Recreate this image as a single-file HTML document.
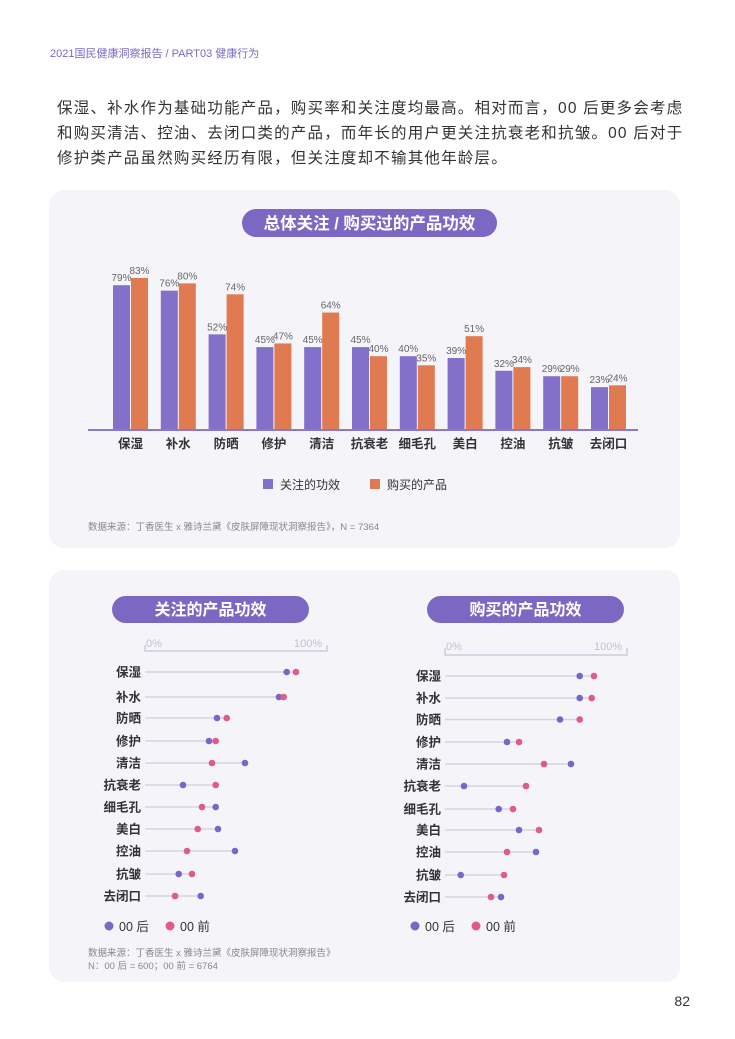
<!DOCTYPE html>
<html><head><meta charset="utf-8"><style>
body{margin:0;background:#fff;}
svg{display:block;font-family:"Liberation Sans","Noto Sans CJK SC",sans-serif;}
</style></head><body>
<svg width="735" height="1039" viewBox="0 0 735 1039" xmlns="http://www.w3.org/2000/svg">
<rect width="735" height="1039" fill="#fff"/>
<text x="50" y="57" font-size="11" fill="#7b68c3">2021国民健康洞察报告 / PART03 健康行为</text>
<g font-size="15.5" fill="#333" letter-spacing="1.2">
<text x="57" y="113">保湿、补水作为基础功能产品，购买率和关注度均最高。相对而言，00 后更多会考虑</text>
<text x="57" y="138">和购买清洁、控油、去闭口类的产品，而年长的用户更关注抗衰老和抗皱。00 后对于</text>
<text x="57" y="163">修护类产品虽然购买经历有限，但关注度却不输其他年龄层。</text>
</g>
<!-- panel 1 -->
<rect x="49" y="190" width="631" height="358" rx="15" fill="#f5f4f9"/>
<rect x="242" y="209" width="255" height="28" rx="14" fill="#7b68c3"/>
<text x="369.5" y="229" font-size="16.5" fill="#fff" text-anchor="middle" font-weight="bold">总体关注 / 购买过的产品功效</text>
<g id="bars"></g>
<line x1="88" y1="430" x2="638" y2="430" stroke="#8a78d0" stroke-width="2"/>
<rect x="263" y="479" width="10" height="10" fill="#8270c9"/>
<text x="280" y="489" font-size="12" fill="#333">关注的功效</text>
<rect x="370" y="479" width="10" height="10" fill="#e07a50"/>
<text x="387" y="489" font-size="12" fill="#333">购买的产品</text>
<text x="88" y="530" font-size="9.5" fill="#888">数据来源：丁香医生 x 雅诗兰黛《皮肤屏障现状洞察报告》，N = 7364</text>
<!-- panel 2 -->
<rect x="49" y="570" width="631" height="412" rx="15" fill="#f5f4f9"/>
<rect x="112" y="596" width="197" height="27" rx="13.5" fill="#7b68c3"/>
<text x="210.5" y="615" font-size="16" fill="#fff" text-anchor="middle" font-weight="bold">关注的产品功效</text>
<rect x="427" y="596" width="197" height="27" rx="13.5" fill="#7b68c3"/>
<text x="525.5" y="615" font-size="16" fill="#fff" text-anchor="middle" font-weight="bold">购买的产品功效</text>
<g stroke="#cfcbe0" stroke-width="1.5" fill="none">
<path d="M145 645 V651 H327 V645"/>
<path d="M445 648 V655 H627 V648"/>
</g>
<g font-size="11" fill="#c4bfd8">
<text x="146" y="647">0%</text><text x="294" y="647">100%</text>
<text x="446" y="650">0%</text><text x="594" y="650">100%</text>
</g>
<g id="dots"></g>
<circle cx="109" cy="926" r="4.5" fill="#7a66c8"/><text x="119" y="931" font-size="12.5" fill="#333">00 后</text>
<circle cx="170" cy="926" r="4.5" fill="#e05a8a"/><text x="180" y="931" font-size="12.5" fill="#333">00 前</text>
<circle cx="415" cy="926" r="4.5" fill="#7a66c8"/><text x="425" y="931" font-size="12.5" fill="#333">00 后</text>
<circle cx="476" cy="926" r="4.5" fill="#e05a8a"/><text x="486" y="931" font-size="12.5" fill="#333">00 前</text>
<text x="88" y="956" font-size="9.5" fill="#888">数据来源：丁香医生 x 雅诗兰黛《皮肤屏障现状洞察报告》</text>
<text x="88" y="969" font-size="9.5" fill="#888">N：00 后 = 600；00 前 = 6764</text>
<text x="690" y="1006" font-size="14" fill="#333" text-anchor="end">82</text>
<script>
(function(){
var ns="http://www.w3.org/2000/svg";
function el(p,t,a,txt){var e=document.createElementNS(ns,t);for(var k in a)e.setAttribute(k,a[k]);if(txt!=null)e.textContent=txt;p.appendChild(e);return e;}
var names=["保湿","补水","防晒","修护","清洁","抗衰老","细毛孔","美白","控油","抗皱","去闭口"];
var A=[79,76,52,45,45,45,40,39,32,29,23],B=[83,80,74,47,64,40,35,51,34,29,24];
var g=document.getElementById("bars"),base=429,s=1.82;
for(var i=0;i<11;i++){var x=113+i*47.8;
var ha=A[i]*s,hb=B[i]*s;
el(g,"rect",{x:x,y:base-ha,width:17,height:ha,fill:"#8270c9"});
el(g,"rect",{x:x+18,y:base-hb,width:17,height:hb,fill:"#e07a50"});
el(g,"text",{x:x+8.5,y:base-ha-4,"font-size":10,fill:"#666","text-anchor":"middle"},A[i]+"%");
el(g,"text",{x:x+26.5,y:base-hb-4,"font-size":10,fill:"#666","text-anchor":"middle"},B[i]+"%");
el(g,"text",{x:x+17.5,y:448,"font-size":12.5,fill:"#333","text-anchor":"middle","font-weight":"bold"},names[i]);}
var d=document.getElementById("dots");
var L={y:[672,697,718,741,763,785,807,829,851,874,896],p:[286.7,279,217,209,245,183,215.7,218,235,178.7,200.7],k:[296,283.7,226.7,215.7,212,215.7,202,197.7,187,192,175],x0:145,lx:141};
var R={y:[676,698,719.5,742,764,786,809,830,852,875,897],p:[579.7,579.7,560,507,571,464,498.7,519,536,460.7,501],k:[594,591.7,579.7,519,544,526,513,539,507,504,491],x0:445,lx:441};
[L,R].forEach(function(c){for(var i=0;i<11;i++){var y=c.y[i],m=Math.max(c.p[i],c.k[i]);
el(d,"line",{x1:c.x0,y1:y,x2:m,y2:y,stroke:"#d6d3e3","stroke-width":1.5});
el(d,"circle",{cx:c.p[i],cy:y,r:3.3,fill:"#7a66c8"});
el(d,"circle",{cx:c.k[i],cy:y,r:3.3,fill:"#e05a8a"});
el(d,"text",{x:c.lx,y:y+4.5,"font-size":12.5,fill:"#333","text-anchor":"end","font-weight":"bold"},names[i]);}});
})();
</script>
</svg>
</body></html>
